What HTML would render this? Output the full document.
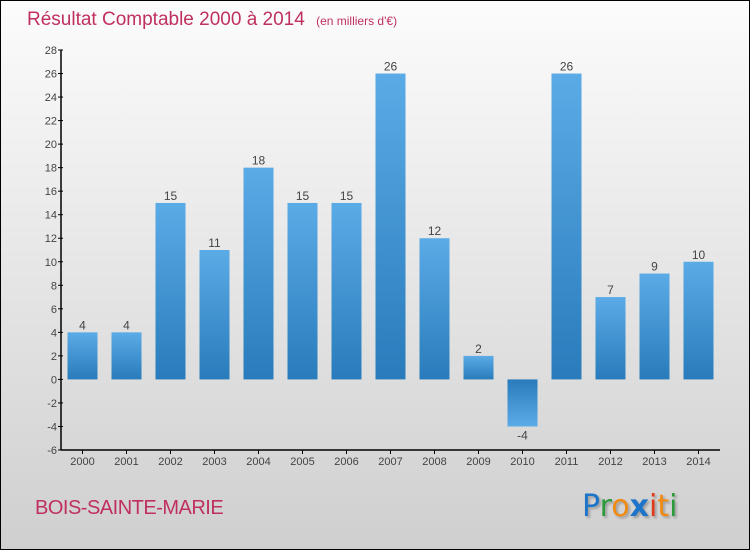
<!DOCTYPE html>
<html><head><meta charset="utf-8"><style>
html,body{margin:0;padding:0}
body{width:750px;height:550px;overflow:hidden;font-family:"Liberation Sans",sans-serif}
</style></head><body>
<svg id="chart" width="750" height="550" xmlns="http://www.w3.org/2000/svg">
<defs>
<linearGradient id="bg" x1="0" y1="0" x2="0" y2="1"><stop offset="0" stop-color="#fcfcfc"/><stop offset="1" stop-color="#cfcfcf"/></linearGradient>
<linearGradient id="barg" x1="0" y1="0" x2="0" y2="1"><stop offset="0" stop-color="#5aabe6"/><stop offset="1" stop-color="#2a7bbb"/></linearGradient>
<linearGradient id="barn" x1="0" y1="0" x2="0" y2="1"><stop offset="0" stop-color="#2a7bbb"/><stop offset="1" stop-color="#5aabe6"/></linearGradient>
</defs>
<rect x="0.5" y="0.5" width="749" height="549" fill="url(#bg)" stroke="#000"/>
<text x="27" y="25" font-size="19" fill="#c0305e" font-weight="300">Résultat Comptable 2000 à 2014 <tspan font-size="12" dx="6">(en milliers d'€)</tspan></text>
<g id="yaxis"></g>
<g id="xaxis"></g>
<g id="bars"></g>
<text x="35" y="514" font-size="20" fill="#c0305e" letter-spacing="-0.5">BOIS-SAINTE-MARIE</text>
<g font-size="30" font-family="'DejaVu Sans',sans-serif" style="filter:drop-shadow(2px 2px 1px rgba(0,0,0,0.25))">
<text x="582" y="516"><tspan fill="#1e74c8">P</tspan><tspan fill="#2a9a3a">r</tspan><tspan fill="#f08a10">o</tspan><tspan fill="#1e74c8" font-weight="bold">x</tspan><tspan fill="#e03a1a">i</tspan><tspan fill="#f08a10">t</tspan><tspan fill="#2a9a3a">i</tspan></text>
</g>
</svg>
<script>
const years=["2000","2001","2002","2003","2004","2005","2006","2007","2008","2009","2010","2011","2012","2013","2014"];
const values=[4,4,15,11,18,15,15,26,12,2,-4,26,7,9,10];
const yTicks=[-6,-4,-2,0,2,4,6,8,10,12,14,16,18,20,22,24,26,28];
const NS="http://www.w3.org/2000/svg";
const yMin=-6,yMax=28,plotTop=50,plotBot=450,plotLeft=61,x0=82.5,step=44,bw=30;
function sy(v){return plotBot-(v-yMin)/(yMax-yMin)*(plotBot-plotTop);}
function sx(i){return x0+i*step;}
function mk(t,a,p){const e=document.createElementNS(NS,t);for(const k in a)e.setAttribute(k,a[k]);p.appendChild(e);return e;}
const ya=document.getElementById('yaxis'),xa=document.getElementById('xaxis'),bg=document.getElementById('bars');
mk('line',{x1:plotLeft,y1:plotTop,x2:plotLeft,y2:plotBot,stroke:'#000','stroke-width':1.5},ya);
yTicks.forEach(v=>{
 const l=mk('line',{x1:plotLeft-3,y1:sy(v),x2:plotLeft+2,y2:sy(v),stroke:'#000'},ya);
 
 
 const t=mk('text',{x:plotLeft-4,y:sy(v)+4,'text-anchor':'end','font-size':11,fill:'#444'},ya);
 
 
 t.textContent=v;
});
mk('line',{x1:plotLeft,y1:plotBot,x2:720,y2:plotBot,stroke:'#000','stroke-width':1.5},xa);
years.forEach((yr,i)=>{
 const l=mk('line',{x1:sx(i),y1:plotBot,x2:sx(i),y2:plotBot+4,stroke:'#000'},xa);
 
 
 const t=mk('text',{x:sx(i),y:plotBot+15,'text-anchor':'middle','font-size':11,fill:'#444'},xa);
 
 
 t.textContent=yr;
});
values.forEach((v,i)=>{
 const y1=Math.min(sy(v),sy(0)),h=Math.abs(sy(v)-sy(0));
 const r=mk('rect',{x:sx(i)-bw/2,y:y1,width:bw,height:h,fill:v>=0?'url(#barg)':'url(#barn)'},bg);
 
 
 const t=mk('text',{x:sx(i),y:v>=0?sy(v)-3:sy(v)+13,'text-anchor':'middle','font-size':12,fill:'#444'},bg);
 
 
 t.textContent=v;
});
</script>
</body></html>
